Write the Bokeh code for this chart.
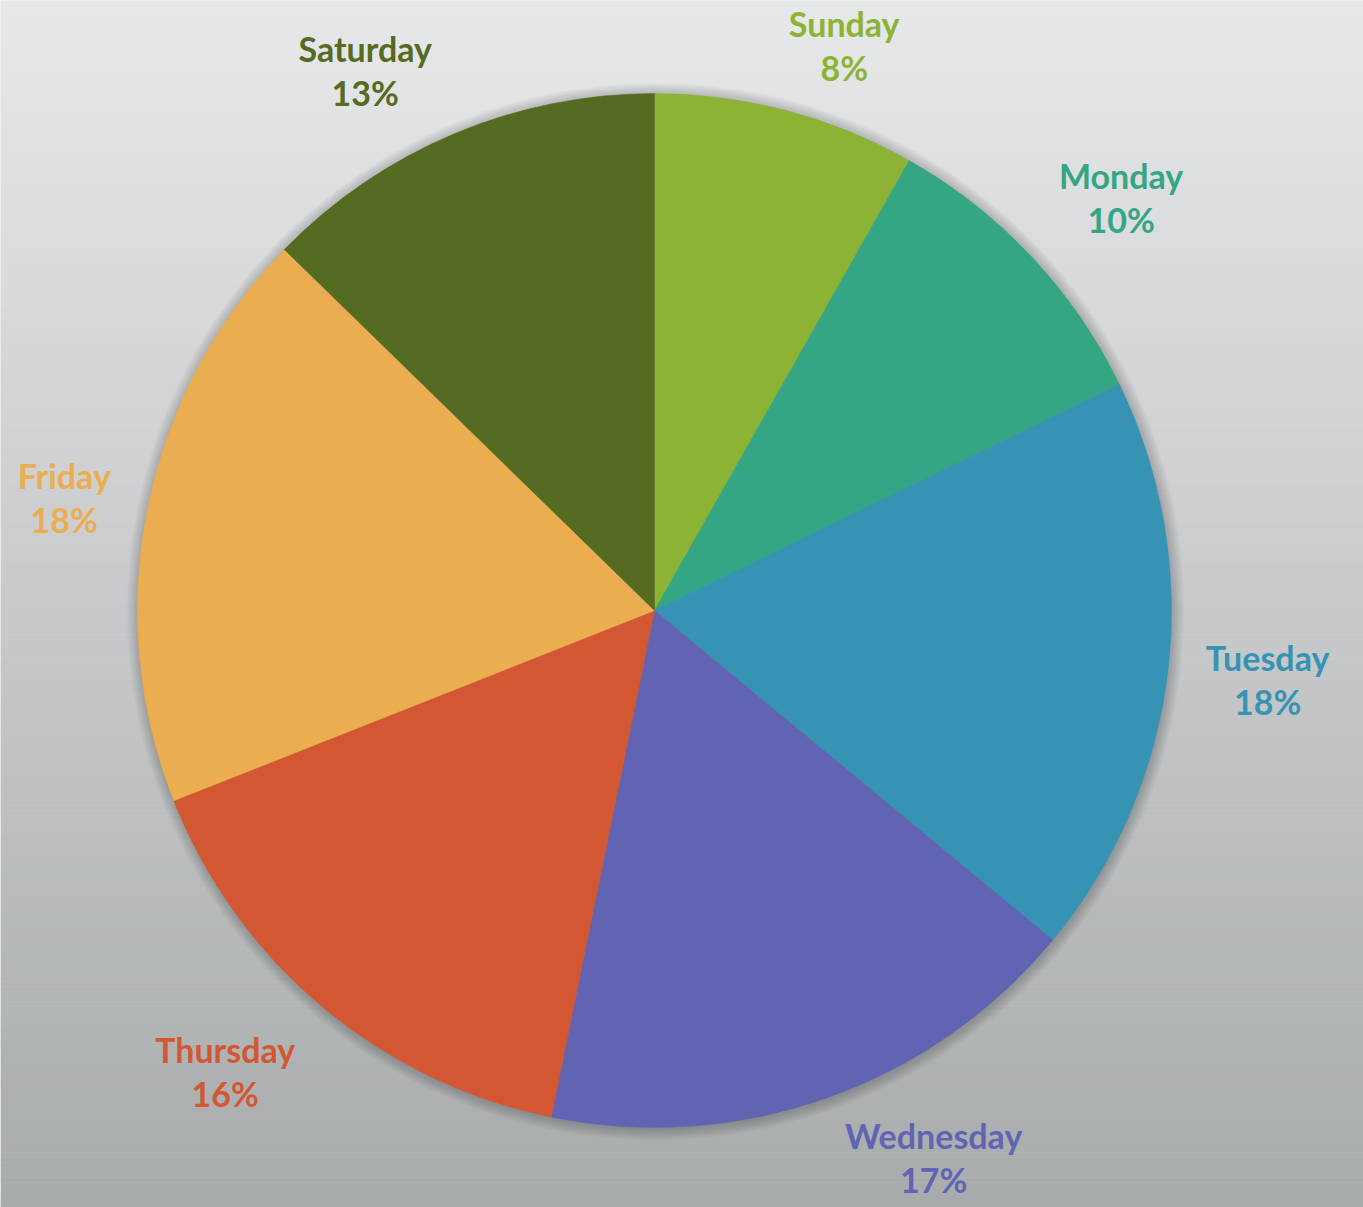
import math
from bokeh.plotting import figure
from bokeh.models import Range1d, ColumnDataSource
from bokeh.core.properties import value
from bokeh.embed import file_html
from bokeh.resources import INLINE

# ---- data ----
days = ["Sunday", "Monday", "Tuesday", "Wednesday", "Thursday", "Friday", "Saturday"]
shares = [8.2, 9.6, 18.2, 17.2, 15.8, 18.3, 12.7]
colors = ["#8DB335", "#34A683", "#3793B4", "#6064B3", "#D35732", "#EAAD4F", "#546B21"]

# ---- layout (not data) ----
W, H = 1363, 1207
CX, CY, R = 654, 597, 517
label_nudge_deg = [3.8, 1.7, -0.4, -7.6, 3.0, -0.5, -5.3]
label_radius = [596, 623, 617, 614, 630, 601, 613]

p = figure(width=W, height=H, output_backend="svg", toolbar_location=None,
           x_range=Range1d(0, W), y_range=Range1d(0, H), min_border=0)
p.axis.visible = False
p.grid.visible = False
p.outline_line_color = None
p.background_fill_color = "#E6E7E9"
p.border_fill_color = "#E6E7E9"

# gradient background as thin bands
top = (231, 232, 234)
bot = (168, 171, 172)
nb = 240
bh = H / nb
bt, bb, bc = [], [], []
for i in range(nb):
    t = (i + 0.5) / nb  # 0 at top
    c = tuple(int(round(top[k] + (bot[k] - top[k]) * t)) for k in range(3))
    bt.append(H - i * bh)
    bb.append(H - (i + 1) * bh - 0.5)
    bc.append("#%02x%02x%02x" % c)
p.quad(left=0, right=W, top=bt, bottom=bb, fill_color=bc, line_color=None)

# soft shadow
for k in range(10):
    p.circle(x=CX + 1, y=CY - 1, radius=R + 1 + k * 1.2, fill_color="black",
             fill_alpha=0.02, line_color=None)

# wedges
total = sum(shares)
starts, ends, mids = [], [], []
cum = 0.0
for s in shares:
    a0 = math.pi / 2 - 2 * math.pi * cum / total
    cum += s
    a1 = math.pi / 2 - 2 * math.pi * cum / total
    starts.append(a0)
    ends.append(a1)
    mids.append((a0 + a1) / 2)

src = ColumnDataSource(dict(start=starts, end=ends, color=colors, day=days))
p.wedge(x=CX, y=CY, radius=R, start_angle="start", end_angle="end",
        direction="clock", fill_color="color", line_color="color", line_width=0.5,
        source=src)

# labels
lx, ly, pct = [], [], []
for i, m in enumerate(mids):
    a = m - math.radians(label_nudge_deg[i])
    lx.append(CX + label_radius[i] * math.cos(a))
    ly.append(CY + label_radius[i] * math.sin(a))
    pct.append("%d%%" % round(shares[i]))

lsrc = ColumnDataSource(dict(x=lx, y1=[y + 22 for y in ly], y2=[y - 22 for y in ly],
                             day=days, pct=pct, color=colors))
p.text(x="x", y="y1", text="day", text_color="color", source=lsrc,
       text_font=value("Lato"), text_font_style="bold", text_font_size="34px",
       text_align="center", text_baseline="middle")
p.text(x="x", y="y2", text="pct", text_color="color", source=lsrc,
       text_font=value("Lato"), text_font_style="bold", text_font_size="34px",
       text_align="center", text_baseline="middle")

open("out.html", "w").write(file_html(p, INLINE))
